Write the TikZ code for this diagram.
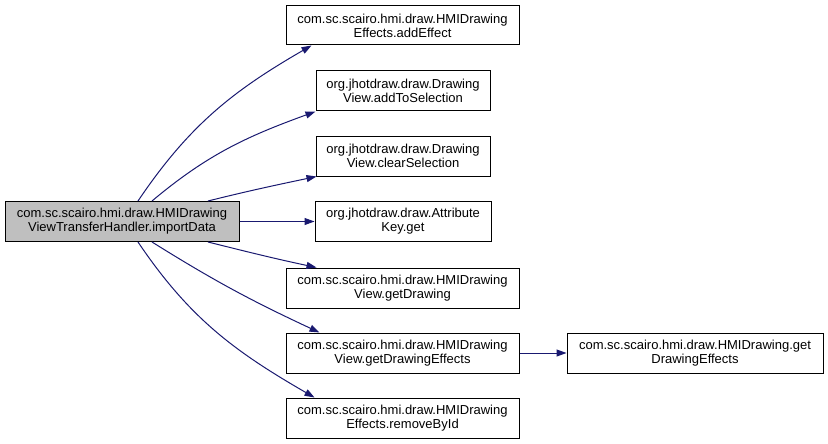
\documentclass[tikz,border=0pt]{standalone}
\usepackage{fontspec}
\setmainfont{Liberation Sans}
\usetikzlibrary{arrows.meta}

\definecolor{edgeblue}{HTML}{191970}
\definecolor{mainfill}{HTML}{BFBFBF}

\tikzset{
    fnbox/.style={draw=black, line width=1pt, align=center, inner sep=0pt,
        minimum height=40pt, font=\fontsize{13}{14}\selectfont},
    call/.style={draw=edgeblue, line width=1pt,
        -{Triangle[length=10pt,width=7pt,fill=edgeblue]}}
}

\begin{document}
\begin{tikzpicture}[x=1pt,y=1pt]

    \useasboundingbox (0,0) rectangle (828,-444);

    % Caller
    \node[fnbox,
        fill=mainfill,
        minimum width=234pt] (import_data) at (122,-221.5)
        {com.sc.scairo.hmi.draw.HMIDrawing\\ViewTransferHandler.importData};

    % Callees
    \node[fnbox,
        minimum width=233pt,
        minimum height=39pt] (add_effect) at (402.5,-25.5)
        {com.sc.scairo.hmi.draw.HMIDrawing\\Effects.addEffect};

    \node[fnbox,
        minimum width=174pt] (add_sel) at (403,-91)
        {org.jhotdraw.draw.Drawing\\View.addToSelection};

    \node[fnbox,
        minimum width=174pt] (clear_sel) at (403,-156)
        {org.jhotdraw.draw.Drawing\\View.clearSelection};

    \node[fnbox,
        minimum width=176pt] (attr_get) at (403,-221.5)
        {org.jhotdraw.draw.Attribute\\Key.get};

    \node[fnbox,
        minimum width=233pt] (get_drawing) at (402.5,-288)
        {com.sc.scairo.hmi.draw.HMIDrawing\\View.getDrawing};

    \node[fnbox,
        minimum width=233pt] (get_effects) at (402.5,-353)
        {com.sc.scairo.hmi.draw.HMIDrawing\\View.getDrawingEffects};

    \node[fnbox,
        minimum width=233pt] (remove_id) at (402.5,-418)
        {com.sc.scairo.hmi.draw.HMIDrawing\\Effects.removeById};

    % Second level
    \node[fnbox,
        minimum width=256pt] (hmi_effects) at (695,-353)
        {com.sc.scairo.hmi.draw.HMIDrawing.get\\DrawingEffects};

    % Calls
    \draw[call] ([xshift=16pt]import_data.north) to[out=56,in=210] ([xshift=26pt]add_effect.south west);
    \draw[call] ([xshift=30pt]import_data.north) to[out=40,in=200] (add_sel.south west);
    \draw[call] ([xshift=86pt]import_data.north) to[out=14,in=192] ([xshift=1pt]clear_sel.south west);
    \draw[call] (import_data.east) -- (attr_get.west);
    \draw[call] ([xshift=86pt]import_data.south) to[out=-14,in=168] ([xshift=31pt]get_drawing.north west);
    \draw[call] ([xshift=30pt]import_data.south) to[out=-32,in=155] ([xshift=34pt]get_effects.north west);
    \draw[call] ([xshift=16pt]import_data.south) to[out=-56,in=150] ([xshift=29pt]remove_id.north west);
    \draw[call] (get_effects.east) -- (hmi_effects.west);

\end{tikzpicture}
\end{document}
